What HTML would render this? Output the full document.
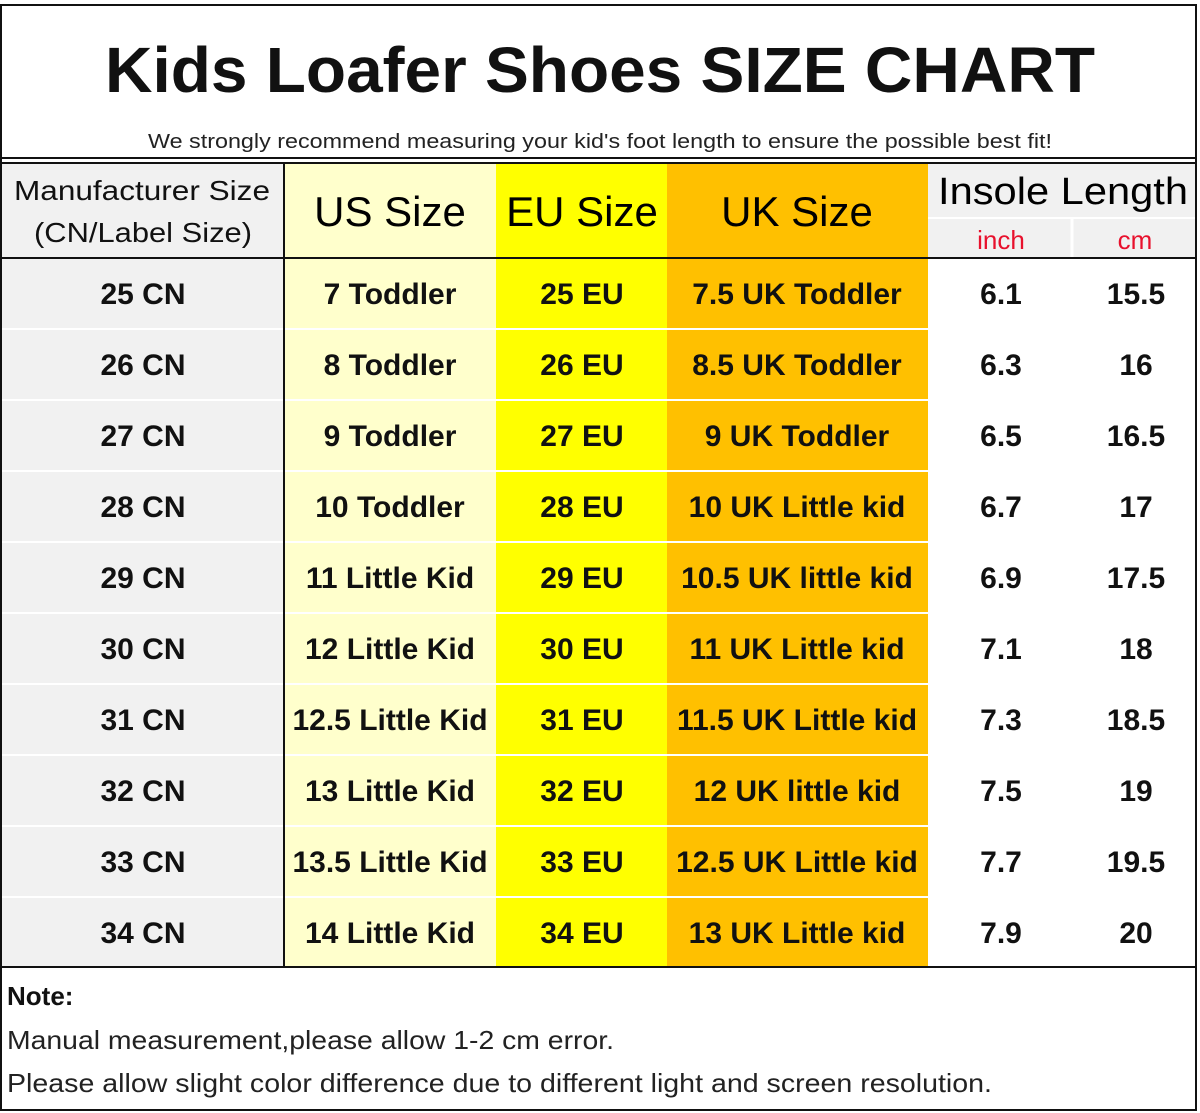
<!DOCTYPE html>
<html><head><meta charset="utf-8"><style>
html,body{margin:0;padding:0;background:#fff;}
svg{display:block;font-family:"Liberation Sans","DejaVu Sans",sans-serif;}
.r{font-weight:bold;font-size:30px;fill:#111;text-anchor:middle;}
</style></head><body>
<svg width="1200" height="1113" viewBox="0 0 1200 1113" xmlns="http://www.w3.org/2000/svg">
<rect x="0" y="0" width="1200" height="1113" fill="#fff"/>
<rect x="0" y="163" width="284" height="804" fill="#f1f1f1"/>
<rect x="284" y="163" width="212" height="804" fill="#ffffcc"/>
<rect x="496" y="163" width="171" height="804" fill="#ffff00"/>
<rect x="667" y="163" width="261" height="804" fill="#ffc000"/>
<rect x="928" y="163" width="268" height="95" fill="#f1f1f1"/>
<line x1="928" y1="218" x2="1196" y2="218" stroke="#fff" stroke-width="2"/>
<line x1="1072" y1="218" x2="1072" y2="258" stroke="#fff" stroke-width="3"/>
<g stroke="#fff" stroke-width="2">
<line x1="0" y1="329" x2="928" y2="329"/><line x1="0" y1="400" x2="928" y2="400"/>
<line x1="0" y1="471" x2="928" y2="471"/><line x1="0" y1="542" x2="928" y2="542"/>
<line x1="0" y1="613" x2="928" y2="613"/><line x1="0" y1="684" x2="928" y2="684"/>
<line x1="0" y1="755" x2="928" y2="755"/><line x1="0" y1="826" x2="928" y2="826"/>
<line x1="0" y1="897" x2="928" y2="897"/>
</g>
<g stroke="#111">
<rect x="1" y="5" width="1195" height="1105" fill="none" stroke-width="2"/>
<line x1="0" y1="158" x2="1197" y2="158" stroke-width="2"/>
<line x1="0" y1="163" x2="1197" y2="163" stroke-width="2"/>
<line x1="0" y1="258" x2="1197" y2="258" stroke-width="2"/>
<line x1="0" y1="967" x2="1197" y2="967" stroke-width="2"/>
<line x1="284" y1="163" x2="284" y2="967" stroke-width="2"/>
</g>
<text x="600" y="92" text-anchor="middle" font-size="64" font-weight="bold" fill="#111" textLength="990" lengthAdjust="spacingAndGlyphs">Kids Loafer Shoes SIZE CHART</text>
<text x="600" y="148" text-anchor="middle" font-size="20" fill="#222" textLength="904" lengthAdjust="spacingAndGlyphs">We strongly recommend measuring your kid's foot length to ensure the possible best fit!</text>
<text x="142" y="200" text-anchor="middle" font-size="28" fill="#111" textLength="256" lengthAdjust="spacingAndGlyphs">Manufacturer Size</text>
<text x="143" y="242" text-anchor="middle" font-size="28" fill="#111" textLength="218" lengthAdjust="spacingAndGlyphs">(CN/Label Size)</text>
<text x="390" y="226" text-anchor="middle" font-size="42" fill="#000">US Size</text>
<text x="582" y="226" text-anchor="middle" font-size="42" fill="#000">EU Size</text>
<text x="797" y="226" text-anchor="middle" font-size="42" fill="#000">UK Size</text>
<text x="1063" y="204" text-anchor="middle" font-size="38" fill="#000" textLength="250" lengthAdjust="spacingAndGlyphs">Insole Length</text>
<text x="1001" y="249" text-anchor="middle" font-size="26" fill="#e8112d">inch</text>
<text x="1135" y="249" text-anchor="middle" font-size="26" fill="#e8112d">cm</text>
<g>
<text class="r" x="143" y="304">25 CN</text><text class="r" x="390" y="304">7 Toddler</text><text class="r" x="582" y="304">25 EU</text><text class="r" x="797" y="304">7.5 UK Toddler</text><text class="r" x="1001" y="304">6.1</text><text class="r" x="1136" y="304">15.5</text>
<text class="r" x="143" y="375">26 CN</text><text class="r" x="390" y="375">8 Toddler</text><text class="r" x="582" y="375">26 EU</text><text class="r" x="797" y="375">8.5 UK Toddler</text><text class="r" x="1001" y="375">6.3</text><text class="r" x="1136" y="375">16</text>
<text class="r" x="143" y="446">27 CN</text><text class="r" x="390" y="446">9 Toddler</text><text class="r" x="582" y="446">27 EU</text><text class="r" x="797" y="446">9 UK Toddler</text><text class="r" x="1001" y="446">6.5</text><text class="r" x="1136" y="446">16.5</text>
<text class="r" x="143" y="517">28 CN</text><text class="r" x="390" y="517">10 Toddler</text><text class="r" x="582" y="517">28 EU</text><text class="r" x="797" y="517">10 UK Little kid</text><text class="r" x="1001" y="517">6.7</text><text class="r" x="1136" y="517">17</text>
<text class="r" x="143" y="588">29 CN</text><text class="r" x="390" y="588">11 Little Kid</text><text class="r" x="582" y="588">29 EU</text><text class="r" x="797" y="588">10.5 UK little kid</text><text class="r" x="1001" y="588">6.9</text><text class="r" x="1136" y="588">17.5</text>
<text class="r" x="143" y="659">30 CN</text><text class="r" x="390" y="659">12 Little Kid</text><text class="r" x="582" y="659">30 EU</text><text class="r" x="797" y="659">11 UK Little kid</text><text class="r" x="1001" y="659">7.1</text><text class="r" x="1136" y="659">18</text>
<text class="r" x="143" y="730">31 CN</text><text class="r" x="390" y="730">12.5 Little Kid</text><text class="r" x="582" y="730">31 EU</text><text class="r" x="797" y="730">11.5 UK Little kid</text><text class="r" x="1001" y="730">7.3</text><text class="r" x="1136" y="730">18.5</text>
<text class="r" x="143" y="801">32 CN</text><text class="r" x="390" y="801">13 Little Kid</text><text class="r" x="582" y="801">32 EU</text><text class="r" x="797" y="801">12 UK little kid</text><text class="r" x="1001" y="801">7.5</text><text class="r" x="1136" y="801">19</text>
<text class="r" x="143" y="872">33 CN</text><text class="r" x="390" y="872">13.5 Little Kid</text><text class="r" x="582" y="872">33 EU</text><text class="r" x="797" y="872">12.5 UK Little kid</text><text class="r" x="1001" y="872">7.7</text><text class="r" x="1136" y="872">19.5</text>
<text class="r" x="143" y="943">34 CN</text><text class="r" x="390" y="943">14 Little Kid</text><text class="r" x="582" y="943">34 EU</text><text class="r" x="797" y="943">13 UK Little kid</text><text class="r" x="1001" y="943">7.9</text><text class="r" x="1136" y="943">20</text>
</g>
<text x="7" y="1005" font-size="26" font-weight="bold" fill="#111">Note:</text>
<text x="7" y="1049" font-size="26" fill="#222" textLength="607" lengthAdjust="spacingAndGlyphs">Manual measurement,please allow 1-2 cm error.</text>
<text x="7" y="1092" font-size="26" fill="#222" textLength="985" lengthAdjust="spacingAndGlyphs">Please allow slight color difference due to different light and screen resolution.</text>
</svg>
</body></html>
